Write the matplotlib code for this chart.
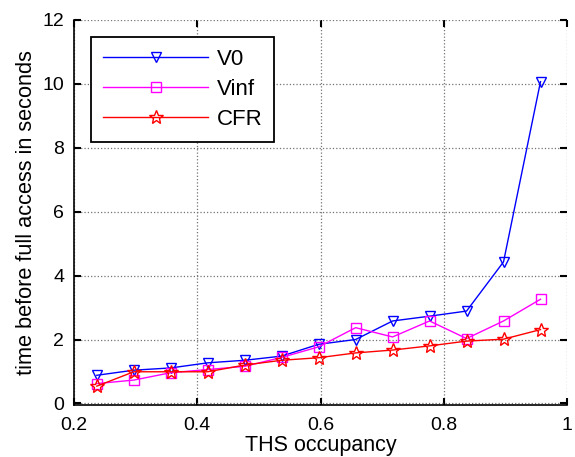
import matplotlib
matplotlib.use("Agg")
import matplotlib.pyplot as plt
from matplotlib.ticker import FuncFormatter

plt.rcParams['font.family'] = ['Liberation Sans', 'DejaVu Sans']

occupancy = [0.237, 0.297, 0.357, 0.417, 0.477, 0.537, 0.597, 0.657, 0.717, 0.777, 0.837, 0.897, 0.957]
v0 = [0.88, 1.04, 1.11, 1.27, 1.35, 1.48, 1.85, 2.0, 2.58, 2.73, 2.89, 4.43, 10.07]
vinf = [0.62, 0.73, 0.96, 1.06, 1.16, 1.44, 1.77, 2.37, 2.08, 2.58, 2.03, 2.58, 3.26]
cfr = [0.54, 0.99, 0.99, 0.99, 1.2, 1.35, 1.43, 1.58, 1.67, 1.8, 1.95, 2.01, 2.31]
x_ticks = [0.2, 0.4, 0.6, 0.8, 1.0]
y_ticks = [0, 2, 4, 6, 8, 10, 12]

fig = plt.figure(figsize=(5.75, 4.57), dpi=100)
ax = fig.add_axes([74/575, 1-405/457, 493/575, 385/457])

ax.plot(occupancy, v0, color=(0, 0, 1), lw=1, marker='v', ms=7, mfc='none', mew=1, label='V0')
ax.plot(occupancy, vinf, color=(1, 0, 1), lw=1, marker='s', ms=7.5, mfc='none', mew=1, label='Vinf')
ax.plot(occupancy, cfr, color=(1, 0, 0), lw=1, marker='*', ms=10, mfc='none', mew=1, label='CFR')

ax.set_xlim(0.2, 1.0)
ax.set_ylim(-0.05, 12)
ax.set_xticks(x_ticks)
ax.set_yticks(y_ticks)
ax.xaxis.set_major_formatter(FuncFormatter(lambda v, p: '%g' % v))
ax.tick_params(direction='in', length=5, width=1.5, labelsize=14, top=True, right=True)
ax.tick_params(axis='x', pad=9)
ax.tick_params(axis='y', pad=7)
ax.grid(True, linestyle=':', color='0.45', linewidth=0.9)
ax.spines['top'].set_visible(False)
ax.spines['right'].set_visible(False)
for s in ('left', 'bottom'):
    ax.spines[s].set_linewidth(1.2)

ax.set_xlabel('THS occupancy', fontsize=15.5, labelpad=0)
ax.set_ylabel('time before full access in seconds', fontsize=15.7, labelpad=4)

leg = ax.legend(loc='upper left', bbox_to_anchor=(0.0335, 0.956), borderaxespad=0,
                fontsize=16, fancybox=False, edgecolor='black', framealpha=1,
                handlelength=4.75, handletextpad=0.37, labelspacing=0.4, borderpad=0.55)
leg.get_frame().set_linewidth(1.3)

fig.savefig('out.png', dpi=100)
